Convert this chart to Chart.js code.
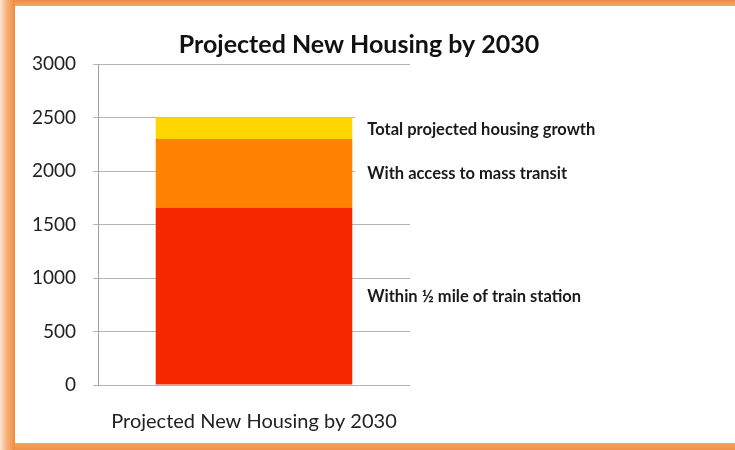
<!DOCTYPE html>
<html>
<head>
<meta charset="utf-8">
<script src="https://cdn.jsdelivr.net/npm/chart.js@4"></script>
<style>
  html, body { margin: 0; padding: 0; background: #fff; }
  #page { position: relative; width: 735px; height: 450px; overflow: hidden; background: #fff; }
  .frame-top { position: absolute; left: 0; top: 0; width: 735px; height: 6px;
    background: linear-gradient(to bottom, #f08a3e, #f7a968); }
  .frame-bottom { position: absolute; left: 0; top: 443px; width: 735px; height: 7px;
    background: linear-gradient(to bottom, #f4a05a, #f0924a); }
  .frame-left { position: absolute; left: 0; top: 0; width: 15px; height: 450px;
    background: linear-gradient(to right, #fde6d4 0%, #f7b27c 45%, #f08a3c 100%); }
  #wrap { position: absolute; left: 15px; top: 6px; width: 720px; height: 437px; background: #fff; }
</style>
</head>
<body>
<div id="page">
  <div class="frame-top"></div>
  <div class="frame-bottom"></div>
  <div class="frame-left"></div>
  <div id="wrap"><canvas id="chart" width="720" height="437"></canvas></div>
</div>
<script>
// Housing projection, one stacked column
const categories = ['Projected New Housing by 2030'];
const seriesNames = [
  'Within ½ mile of train station',
  'With access to mass transit',
  'Total projected housing growth'
];
const nearTrainStation = [1660];   // bottom segment
const massTransitExtra = [640];    // up to ~2300 with transit access
const remainingGrowth  = [200];    // up to ~2500 total growth
const seriesColors = ['#f52800', '#ff8200', '#ffd600'];
const yMin = 0, yMax = 3000, yStep = 500;

const FONT = 'Lato, "Open Sans", "DejaVu Sans", sans-serif';

// Writes each segment's name beside the column, on a white backing
const segmentLabels = {
  id: 'segmentLabels',
  afterDatasetsDraw(chart) {
    const ctx = chart.ctx;
    ctx.save();
    ctx.font = 'bold 16.5px ' + FONT;
    ctx.textBaseline = 'middle';
    ctx.textAlign = 'left';
    chart.data.datasets.forEach((ds, i) => {
      const bar = chart.getDatasetMeta(i).data[0];
      if (!bar) return;
      const cy = (bar.y + bar.base) / 2;
      const left = bar.x + bar.width / 2 + 3;
      const tx = bar.x + bar.width / 2 + 15;
      const w = ctx.measureText(ds.label).width;
      ctx.fillStyle = '#ffffff';
      ctx.fillRect(left, cy - 12, tx - left + w + 6, 24);
      ctx.fillStyle = '#1a1a1a';
      ctx.fillText(ds.label, tx, cy + 1);
    });
    ctx.restore();
  }
};

new Chart(document.getElementById('chart'), {
  type: 'bar',
  data: {
    labels: categories,
    datasets: [
      { label: seriesNames[0], data: nearTrainStation, backgroundColor: seriesColors[0] },
      { label: seriesNames[1], data: massTransitExtra, backgroundColor: seriesColors[1] },
      { label: seriesNames[2], data: remainingGrowth, backgroundColor: seriesColors[2] }
    ]
  },
  options: {
    responsive: false,
    animation: false,
    devicePixelRatio: 1,
    layout: { padding: { left: 0, right: 32, top: 0, bottom: 0 } },
    datasets: { bar: { barPercentage: 0.63, categoryPercentage: 1, borderWidth: 0 } },
    plugins: {
      legend: { display: false },
      tooltip: { enabled: false },
      title: {
        display: true,
        text: 'Projected New Housing by 2030',
        color: '#111',
        font: { family: FONT, size: 25, weight: 'bold', lineHeight: 1.2 },
        padding: { top: 24, bottom: 4 }
      }
    },
    scales: {
      x: {
        stacked: true,
        grid: { display: false, drawTicks: false },
        border: { display: false },
        ticks: { color: '#222', padding: 25, font: { family: FONT, size: 20 } },
        afterFit(s) { s.height = 58; }
      },
      y: {
        stacked: true,
        min: yMin, max: yMax,
        ticks: {
          stepSize: yStep, color: '#222', padding: 17,
          font: { family: FONT, size: 19 },
          callback: v => String(v)
        },
        grid: { color: '#b4b4b4', lineWidth: 1, drawTicks: true, tickLength: 5 },
        border: { display: true, color: '#a0a0a0', width: 1 },
        afterFit(s) { s.width = 83; }
      },
      side: {
        type: 'linear',
        position: 'right',
        display: true,
        grid: { display: false, drawTicks: false },
        border: { display: false },
        ticks: { display: false },
        afterFit(s) { s.width = 293; }
      }
    }
  },
  plugins: [segmentLabels]
});
</script>
</body>
</html>
